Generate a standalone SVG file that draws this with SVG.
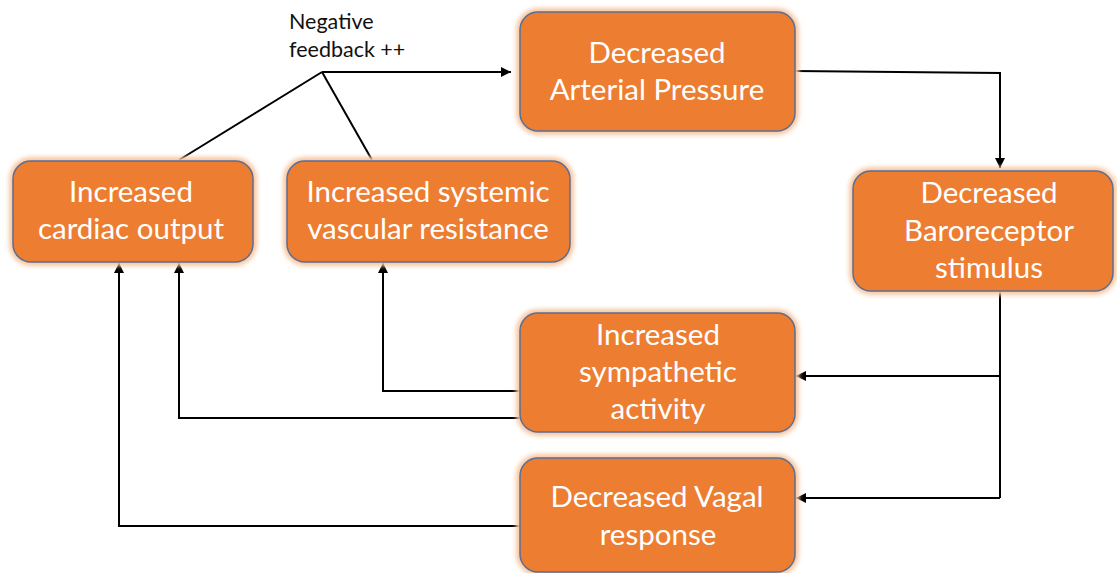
<svg xmlns="http://www.w3.org/2000/svg" width="1117" height="573" viewBox="0 0 1117 573">
<style>
.box{fill:#ED7D31;stroke:#5A6E94;stroke-width:1.5}
.glow{fill:none;stroke:#F8C7A2;stroke-width:8;filter:url(#blur)}
.t{font-family:Lato,"Open Sans",sans-serif;font-size:29.5px;fill:#FFFFFF;text-anchor:middle}
.lbl{font-family:Lato,"Open Sans",sans-serif;font-size:21.5px;fill:#111111}
.c{fill:none;stroke:#000;stroke-width:2}
</style>
<defs>
<filter id="blur" x="-10%" y="-10%" width="120%" height="120%"><feGaussianBlur stdDeviation="2"/></filter>
<marker id="ah" viewBox="0 0 10 10" refX="10" refY="5" markerWidth="10" markerHeight="10" markerUnits="userSpaceOnUse" orient="auto"><path d="M0,0 L10,5 L0,10 Z" fill="#000"/></marker>
</defs>
<rect width="1117" height="573" fill="#FFFFFF"/>
<g id="connectors">
<path class="c" d="M322,72 L511,72" marker-end="url(#ah)"/>
<path class="c" d="M322,72 L179,160"/>
<path class="c" d="M322,72 L372,160"/>
<path class="c" d="M795,71 L1000,73 L1000,168" marker-end="url(#ah)"/>
<path class="c" d="M1000,291 L1000,498"/>
<path class="c" d="M1000,376 L796,376" marker-end="url(#ah)"/>
<path class="c" d="M1000,498 L796,498" marker-end="url(#ah)"/>
<path class="c" d="M520,391 L383,391 L383,263" marker-end="url(#ah)"/>
<path class="c" d="M520,418 L179,418 L179,263" marker-end="url(#ah)"/>
<path class="c" d="M520,526 L119,526 L119,263" marker-end="url(#ah)"/>
</g>
<g id="label">
<text class="lbl" x="289" y="29">Negative</text>
<text class="lbl" x="289" y="57">feedback ++</text>
</g>
<g id="node-ap">
<rect class="glow" x="520" y="12" width="275" height="119" rx="18"/>
<rect class="box" x="520" y="12" width="275" height="119" rx="18"/>
<text class="t" x="657" y="63">Decreased</text>
<text class="t" x="657" y="100">Arterial Pressure</text>
</g>
<g id="node-baro">
<rect class="glow" x="853" y="171" width="260" height="120" rx="18"/>
<rect class="box" x="853" y="171" width="260" height="120" rx="18"/>
<text class="t" x="989" y="203">Decreased</text>
<text class="t" x="989" y="241">Baroreceptor</text>
<text class="t" x="989" y="278">stimulus</text>
</g>
<g id="node-co">
<rect class="glow" x="13" y="161" width="240" height="101" rx="18"/>
<rect class="box" x="13" y="161" width="240" height="101" rx="18"/>
<text class="t" x="131" y="202">Increased</text>
<text class="t" x="131" y="239">cardiac output</text>
</g>
<g id="node-svr">
<rect class="glow" x="287" y="161" width="283" height="101" rx="18"/>
<rect class="box" x="287" y="161" width="283" height="101" rx="18"/>
<text class="t" x="428" y="202">Increased systemic</text>
<text class="t" x="428" y="239">vascular resistance</text>
</g>
<g id="node-symp">
<rect class="glow" x="520" y="313" width="275" height="119" rx="18"/>
<rect class="box" x="520" y="313" width="275" height="119" rx="18"/>
<text class="t" x="658" y="345">Increased</text>
<text class="t" x="658" y="382">sympathetic</text>
<text class="t" x="658" y="419">activity</text>
</g>
<g id="node-vagal">
<rect class="glow" x="520" y="458" width="275" height="114" rx="18"/>
<rect class="box" x="520" y="458" width="275" height="114" rx="18"/>
<text class="t" x="657" y="507">Decreased Vagal</text>
<text class="t" x="658" y="545">response</text>
</g>
</svg>
